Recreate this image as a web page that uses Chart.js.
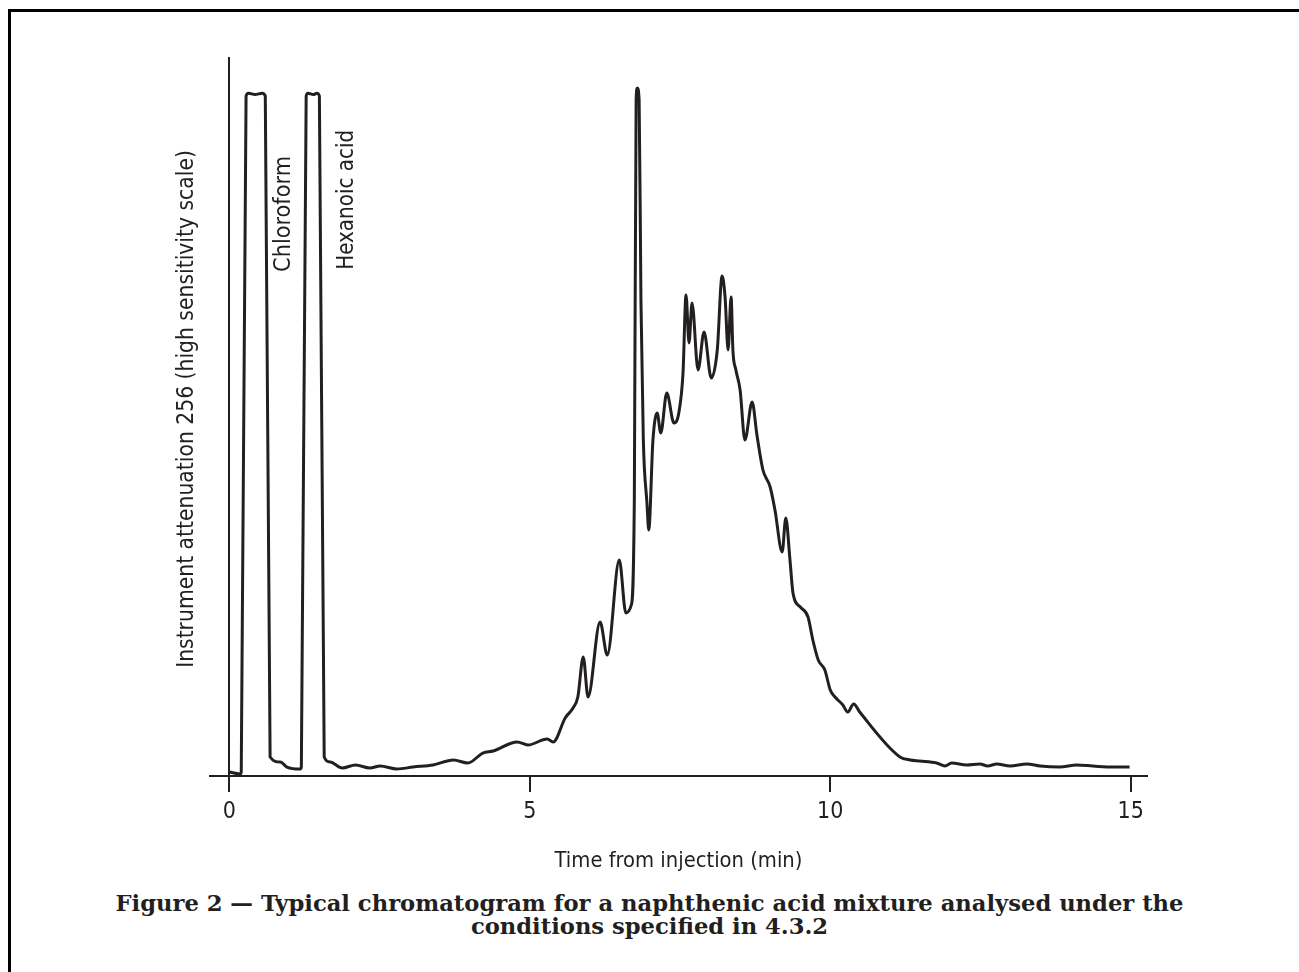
<!DOCTYPE html>
<html><head><meta charset="utf-8">
<script src="https://cdn.jsdelivr.net/npm/chart.js@4.4.1/dist/chart.umd.min.js"></script>
<style>
html,body{margin:0;padding:0;background:#fff;width:1299px;height:972px;overflow:hidden;}
#frame{position:absolute;left:8px;top:9px;right:0;bottom:0;border-top:3px solid #000;border-left:3px solid #000;}
#wrap{position:absolute;left:0;top:0;width:1299px;height:880px;}
#caption{position:absolute;left:0;width:1299px;top:892px;text-align:center;font-family:"DejaVu Serif",serif;font-weight:bold;color:#231f20;line-height:23px;white-space:nowrap;font-size:20px;}
</style></head>
<body>
<div id="frame"></div>
<div id="wrap"><canvas id="c" width="1299" height="880"></canvas></div>
<div id="caption">Figure 2 — Typical chromatogram for a naphthenic acid mixture analysed under the<br>conditions specified in 4.3.2</div>
<script>
// ---- data ----
const timeMin = [
  0.00,0.18,0.20,0.28,0.32,0.43,0.55,0.60,0.68,0.85,
  0.96,1.18,1.20,1.28,1.31,1.40,1.46,1.50,1.58,1.68,
  1.88,2.10,2.34,2.51,2.79,3.06,3.39,3.73,3.97,4.22,
  4.39,4.79,4.97,5.29,5.39,5.59,5.72,5.80,5.89,5.97,
  6.17,6.29,6.49,6.60,6.69,6.74,6.77,6.79,6.82,6.85,
  6.89,6.95,6.98,7.05,7.12,7.18,7.28,7.40,7.48,7.55,
  7.60,7.65,7.70,7.80,7.90,8.02,8.12,8.20,8.25,8.30,
  8.35,8.38,8.43,8.50,8.58,8.70,8.78,8.88,9.00,9.08,
  9.20,9.26,9.33,9.38,9.50,9.63,9.71,9.80,9.91,10.00,
  10.08,10.21,10.29,10.39,10.49,11.16,11.33,11.49,11.77,11.91,
  12.02,12.27,12.49,12.62,12.77,12.99,13.27,13.49,13.82,14.10,
  14.37,14.70,14.98
];
const signal = [
  0.56,0.28,0.56,94.7,95.1,94.9,95.1,94.7,2.65,1.95,
  1.25,0.97,1.25,94.7,95.1,94.9,95.1,94.7,2.65,1.95,
  1.11,1.53,1.11,1.39,0.97,1.25,1.53,2.23,1.81,3.20,
  3.48,4.74,4.32,5.15,4.74,8.08,9.47,11.00,16.57,11.00,
  21.45,16.85,30.08,22.70,23.82,38.44,94.15,95.82,94.15,66.30,
  46.80,38.02,34.26,46.80,50.56,47.77,53.34,49.16,50.56,56.13,
  66.99,60.31,65.88,56.55,61.84,55.43,59.33,69.64,66.71,59.33,
  66.71,59.33,56.55,53.76,46.80,52.09,47.49,42.62,40.25,37.05,
  31.20,35.93,30.08,25.49,23.54,22.14,18.94,16.16,14.76,11.98,
  11.00,9.89,8.91,10.03,8.91,2.65,2.23,2.09,1.81,1.39,
  1.81,1.53,1.67,1.39,1.67,1.39,1.67,1.39,1.25,1.53,
  1.39,1.25,1.25
];
const xTickValues = [0, 5, 10, 15];
const xTitle = 'Time from injection (min)';
const yTitle = 'Instrument attenuation 256 (high sensitivity scale)';
const peakLabels = ['Chloroform', 'Hexanoic acid'];
const peakLabelTimes = [1.01, 2.06];
const peakLabelLevels = [70.2, 70.5];

// ---- styling helpers ----
const INK = '#231f20';
const mctx = document.createElement('canvas').getContext('2d');
function pickFamily(){
  const test = 'Time from injection (min)';
  mctx.font = '100px monospace';
  const base = mctx.measureText(test).width;
  for (const fam of ['Liberation Sans Narrow', 'DejaVu Sans Condensed']) {
    mctx.font = '100px "' + fam + '", monospace';
    if (Math.abs(mctx.measureText(test).width - base) > 1) return fam;
  }
  return 'DejaVu Sans';
}
const FAM = pickFamily();
function fitSize(text, width, fam, weight){
  mctx.font = (weight||'') + ' 100px "' + fam + '"';
  return 100 * width / mctx.measureText(text).width;
}
const xTitleSize = fitSize(xTitle, 248, FAM);
const yTitleSize = fitSize(yTitle, 518, FAM);
const peakSizes = [fitSize(peakLabels[0], 116, FAM), fitSize(peakLabels[1], 140, FAM)];
const tickSize = 23;

// caption fitting
(function(){
  const s = fitSize('Figure 2 — Typical chromatogram for a naphthenic acid mixture analysed under the', 1068, 'DejaVu Serif', 'bold');
  document.getElementById('caption').style.fontSize = s.toFixed(2) + 'px';
})();

const labelPlugin = {
  id: 'figLabels',
  afterDatasetsDraw(chart){
    const {ctx, chartArea, scales} = chart;
    ctx.save();
    ctx.fillStyle = INK;
    ctx.font = yTitleSize.toFixed(2) + 'px "' + FAM + '"';
    ctx.translate(chartArea.left - 17, (chartArea.top + chartArea.bottom) / 2 - 8);
    ctx.rotate(-Math.PI / 2);
    ctx.textAlign = 'center';
    ctx.textBaseline = 'alphabetic';
    ctx.fillText(yTitle, 0, 0);
    ctx.restore();
    peakLabels.forEach((t, i) => {
      ctx.save();
      ctx.fillStyle = INK;
      ctx.font = peakSizes[i].toFixed(2) + 'px "' + FAM + '"';
      ctx.translate(scales.x.getPixelForValue(peakLabelTimes[i]), scales.y.getPixelForValue(peakLabelLevels[i]));
      ctx.rotate(-Math.PI / 2);
      ctx.textAlign = 'left';
      ctx.textBaseline = 'alphabetic';
      ctx.fillText(t, 0, 0);
      ctx.restore();
    });
  }
};

const tickLen = 16;
const tickPad = Math.max(0, 812 - 776 - tickLen - 0.6 * tickSize);
const xTitlePad = Math.max(0, 19 - 0.6 * xTitleSize);

new Chart(document.getElementById('c'), {
  type: 'line',
  data: {
    datasets: [{
      data: timeMin.map((t, i) => ({x: t, y: signal[i]})),
      borderColor: INK,
      borderWidth: 3,
      pointRadius: 0,
      cubicInterpolationMode: 'monotone',
      fill: false
    }]
  },
  options: {
    responsive: false,
    animation: false,
    devicePixelRatio: 1,
    layout: {padding: {left: 210, right: 152, top: 58, bottom: 0}},
    plugins: {legend: {display: false}, tooltip: {enabled: false}, title: {display: false}},
    scales: {
      x: {
        type: 'linear',
        position: 'bottom',
        min: -0.32,
        max: 15.27,
        afterBuildTicks: s => { s.ticks = xTickValues.map(v => ({value: v})); },
        afterFit: s => { s.height = 104; },
        grid: {display: true, drawOnChartArea: false, drawTicks: true, tickLength: tickLen, color: INK, lineWidth: 2},
        border: {display: true, color: INK, width: 2},
        ticks: {color: INK, padding: tickPad, font: {family: FAM, size: tickSize}, maxRotation: 0},
        title: {display: true, text: xTitle, color: INK, font: {family: FAM, size: xTitleSize}, padding: {top: 0, bottom: xTitlePad}}
      },
      y: {
        type: 'linear',
        position: {x: 0},
        min: 0,
        max: 100,
        grid: {display: false},
        border: {display: true, color: INK, width: 2},
        ticks: {display: false},
        title: {display: false}
      }
    }
  },
  plugins: [labelPlugin]
});
</script>
</body></html>
